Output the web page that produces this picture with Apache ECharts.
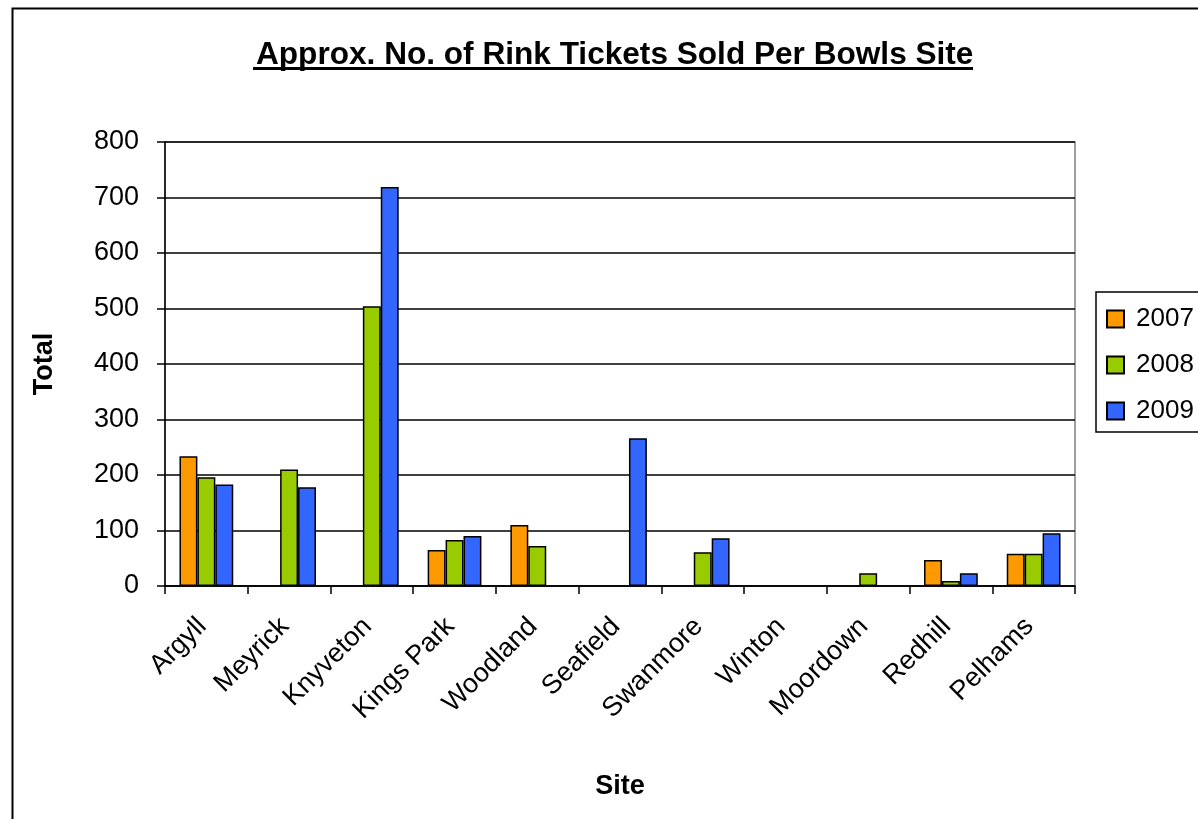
<!DOCTYPE html>
<html>
<head>
<meta charset="utf-8">
<title>Rink Tickets</title>
<script src="https://cdn.jsdelivr.net/npm/echarts@6/dist/echarts.min.js"></script>
<style>
  html, body { margin: 0; padding: 0; background: #fff; }
  #chart { width: 1198px; height: 819px; }
</style>
</head>
<body>
<div id="chart"></div>
<script>
// sites along the x axis
const sites = ['Argyll', 'Meyrick', 'Knyveton', 'Kings Park', 'Woodland', 'Seafield',
  'Swanmore', 'Winton', 'Moordown', 'Redhill', 'Pelhams']
const years = ['2007', '2008', '2009']
// tickets per site (null = no bar)
const y2007 = [234, null, null, 65, 110, null, null, null, null, 47, 58]
const y2008 = [196, 210, 504, 83, 72, null, 61, null, 23, 9, 58]
const y2009 = [183, 178, 719, 90, null, 266, 86, null, null, 23, 95]
const yTicks = { min: 0, max: 800, step: 100 }

const colorList = ['#FF9900', '#99CC00', '#3366FF']
const font = 'Liberation Sans, Arial, sans-serif'

const chart = echarts.init(document.getElementById('chart'))

function barSeries(name, data, i) {
  return {
    name: name,
    type: 'bar',
    data: data,
    barGap: '0%',
    barCategoryGap: '35%',
    itemStyle: { color: colorList[i], borderColor: '#000', borderWidth: 1.5 }
  }
}

chart.setOption({
  animation: false,
  backgroundColor: '#fff',
  title: {
    text: 'Approx. No. of Rink Tickets Sold Per Bowls Site',
    left: 251,
    top: 34,
    textStyle: { fontFamily: font, fontSize: 31.6, fontWeight: 'bold', color: '#000' }
  },
  // outer frame + title underline
  graphic: [
    { type: 'rect', left: 10, top: 6, shape: { width: 1400, height: 1000 },
      style: { fill: 'none', stroke: '#000', lineWidth: 2 } },
    { type: 'rect', left: 253, top: 67, shape: { width: 720, height: 3 },
      style: { fill: '#000' } }
  ],
  legend: {
    orient: 'vertical',
    left: 1096,
    top: 292,
    data: years,
    icon: 'rect',
    itemWidth: 17,
    itemHeight: 17,
    itemGap: 20,
    padding: [14, 60, 8, 10],
    borderColor: '#000',
    borderWidth: 1.5,
    textStyle: { fontFamily: font, fontSize: 26, color: '#000', padding: [0, 0, 0, 7] }
  },
  grid: {
    left: 165,
    right: 123,
    top: 142,
    bottom: 233,
    show: true,
    borderColor: '#808080',
    borderWidth: 1.5
  },
  xAxis: {
    type: 'category',
    data: sites,
    name: 'Site',
    nameLocation: 'middle',
    nameGap: 187,
    nameTextStyle: { fontFamily: font, fontSize: 27, fontWeight: 'bold', color: '#000' },
    axisLine: { lineStyle: { color: '#000', width: 1.5 } },
    axisTick: { show: true, length: 8, lineStyle: { color: '#000', width: 1.5 } },
    axisLabel: { rotate: 45, margin: 32, interval: 0, fontFamily: font, fontSize: 27, color: '#000', padding: [0, 6, 0, 0] },
    splitLine: { show: false }
  },
  yAxis: {
    type: 'value',
    min: yTicks.min,
    max: yTicks.max,
    interval: yTicks.step,
    name: 'Total',
    nameLocation: 'middle',
    nameGap: 107,
    nameTextStyle: { fontFamily: font, fontSize: 27, fontWeight: 'bold', color: '#000' },
    axisLine: { show: true, lineStyle: { color: '#000', width: 1.5 } },
    axisTick: { show: true, length: 8, lineStyle: { color: '#000', width: 1.5 } },
    axisLabel: { margin: 26, fontFamily: font, fontSize: 27, color: '#000' },
    splitLine: { show: true, lineStyle: { color: '#000', width: 1.5 } }
  },
  series: [
    barSeries(years[0], y2007, 0),
    barSeries(years[1], y2008, 1),
    barSeries(years[2], y2009, 2)
  ]
})
</script>
</body>
</html>
